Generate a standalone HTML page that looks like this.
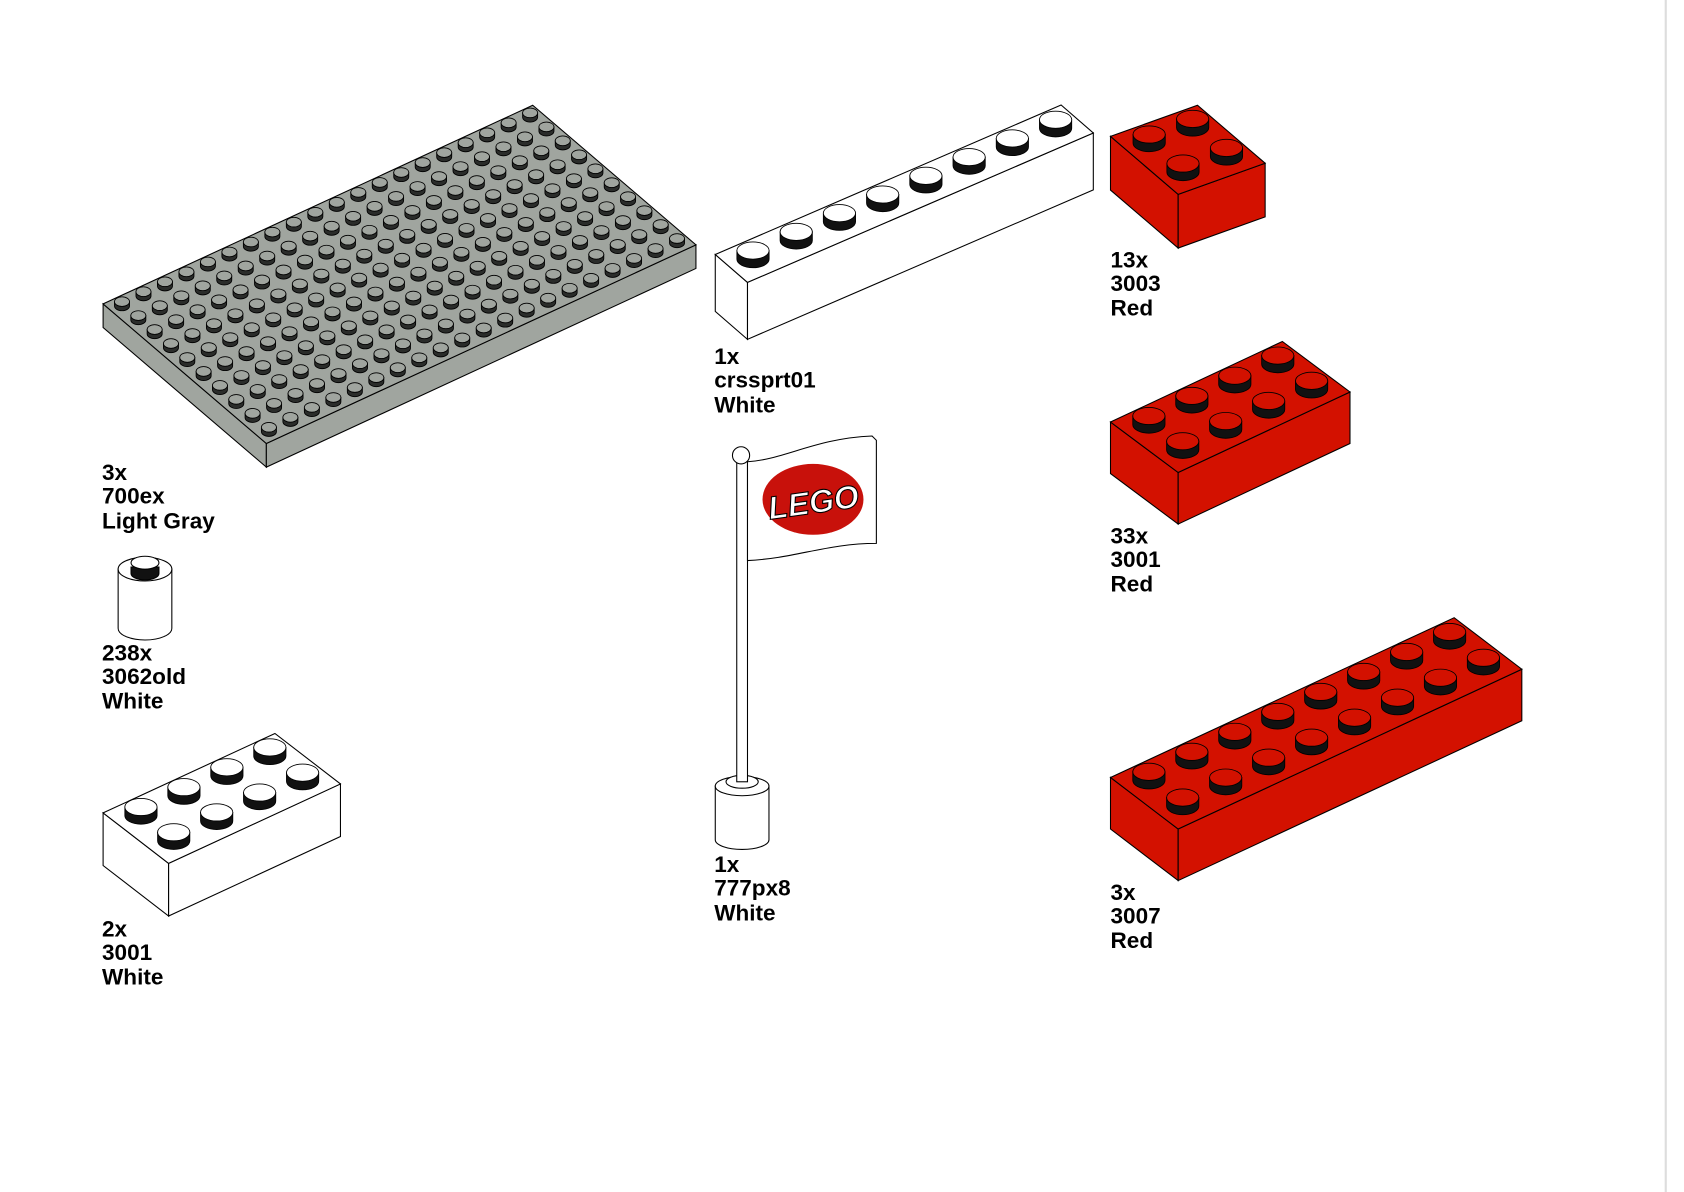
<!DOCTYPE html>
<html><head><meta charset="utf-8"><style>
html,body{margin:0;padding:0;background:#fff}
svg{display:block}
text{font-family:"Liberation Sans",sans-serif;font-weight:bold;font-size:21px;fill:#000}
</style></head><body>
<svg id="s" width="1684" height="1192" viewBox="0 0 1568 1110" preserveAspectRatio="none" xmlns="http://www.w3.org/2000/svg">
<rect width="1568" height="1110" fill="#fff"/>
<line x1="1551" y1="0" x2="1551" y2="1110" stroke="#ddd" stroke-width="2"/>
<g id="parts"></g>
<!-- round 1x1 -->
<g stroke="#000" stroke-width="1">
<path d="M110 530 L110 585 A25 11 0 0 0 160 585 L160 530 Z" fill="#fff"/>
<ellipse cx="135" cy="530" rx="25" ry="11" fill="#fff"/>
<path d="M122 528 L122 534 A13 6 0 0 0 148 534 L148 528 Z" fill="#111"/>
<ellipse cx="135" cy="524" rx="13" ry="6" fill="#fff"/>
</g>
<!-- flag -->
<g stroke="#000" stroke-width="1">
<path d="M666 732 L666 782 A25 9 0 0 0 716 782 L716 732 Z" fill="#fff"/>
<ellipse cx="691" cy="732" rx="25" ry="9" fill="#fff"/>
<ellipse cx="691" cy="728" rx="15" ry="6" fill="#fff"/>
<rect x="686" y="428" width="10" height="300" fill="#fff"/>
<path d="M696 430 C730 428 760 408 812 406 L816 410 L816 506 C770 506 740 520 696 522 Z" fill="#fff"/>
<circle cx="690" cy="424" r="8" fill="#fff"/>
</g>
<ellipse cx="757" cy="465" rx="47" ry="33" fill="#c8110b"/>
<text x="757" y="478" text-anchor="middle" style="font-size:30px;font-style:italic;fill:#fff;stroke:#000;stroke-width:1" transform="rotate(-8 757 465)">LEGO</text>
<g id="labels">
<text x="95" y="447">3x</text><text x="95" y="469">700ex</text><text x="95" y="492">Light Gray</text>
<text x="95" y="615">238x</text><text x="95" y="637">3062old</text><text x="95" y="660">White</text>
<text x="95" y="872">2x</text><text x="95" y="894">3001</text><text x="95" y="917">White</text>
<text x="665" y="339">1x</text><text x="665" y="361">crssprt01</text><text x="665" y="384">White</text>
<text x="665" y="812">1x</text><text x="665" y="834">777px8</text><text x="665" y="857">White</text>
<text x="1034" y="249">13x</text><text x="1034" y="271">3003</text><text x="1034" y="294">Red</text>
<text x="1034" y="506">33x</text><text x="1034" y="528">3001</text><text x="1034" y="551">Red</text>
<text x="1034" y="838">3x</text><text x="1034" y="860">3007</text><text x="1034" y="883">Red</text>
</g>
</svg>
<script>
function P(a){return a.map(p=>p[0].toFixed(1)+','+p[1].toFixed(1)).join(' ');}
function brick(L,u,v,h,nu,nv,top,side,studSide,rx,ry,sh){
  const g=document.getElementById('parts');let s='';
  const add=(a,b,k=1)=>[a[0]+b[0]*k,a[1]+b[1]*k];
  const B=add(L,u,nu),F=add(L,v,nv),R=add(B,v,nv);
  const d=p=>[p[0],p[1]+h];
  s+=`<polygon points="${P([L,F,d(F),d(L)])}" fill="${side}" stroke="#000" stroke-width="1"/>`;
  s+=`<polygon points="${P([F,R,d(R),d(F)])}" fill="${side}" stroke="#000" stroke-width="1"/>`;
  s+=`<polygon points="${P([L,B,R,F])}" fill="${top}" stroke="#000" stroke-width="1"/>`;
  let st=[];
  for(let i=0;i<nu;i++)for(let j=0;j<nv;j++){
    st.push(add(add(L,u,i+0.5),v,j+0.5));
  }
  st.sort((a,b)=>a[1]-b[1]);
  for(const c of st){
    const x=c[0],y=c[1];
    s+=`<path d="M${x-rx} ${y-sh} L${x-rx} ${y} A${rx} ${ry} 0 0 0 ${x+rx} ${y} L${x+rx} ${y-sh} Z" fill="${studSide}" stroke="#000" stroke-width="0.8"/>`;
    s+=`<ellipse cx="${x}" cy="${y-sh}" rx="${rx}" ry="${ry}" fill="${top}" stroke="#000" stroke-width="0.8"/>`;
  }
  g.insertAdjacentHTML('beforeend',s);
}
// plate 10x20
brick([96,283],[20,-9.25],[15.2,13],22,20,10,'#a0a59f','#a0a59f','#2a2c2a',7,4.5,4);
// 1x8 white
brick([666,237],[40.25,-17.4],[30,26],53,8,1,'#fff','#fff','#111',15,8,8);
// 2x2 red
brick([1034,127],[40.5,-14.5],[31.5,27],50,2,2,'#d31100','#d31100','#111',15,8,8);
// 2x4 red
brick([1034,393],[40,-18.75],[31.5,23.5],48,4,2,'#d31100','#d31100','#111',15,8,8);
// 2x8 red
brick([1034,724],[40,-18.6],[31.5,24],48,8,2,'#d31100','#d31100','#111',15,8,8);
// 2x4 white
brick([96,757],[40,-18.5],[30.5,23.5],49,4,2,'#fff','#fff','#111',15,8,8);
</script>
</body></html>
